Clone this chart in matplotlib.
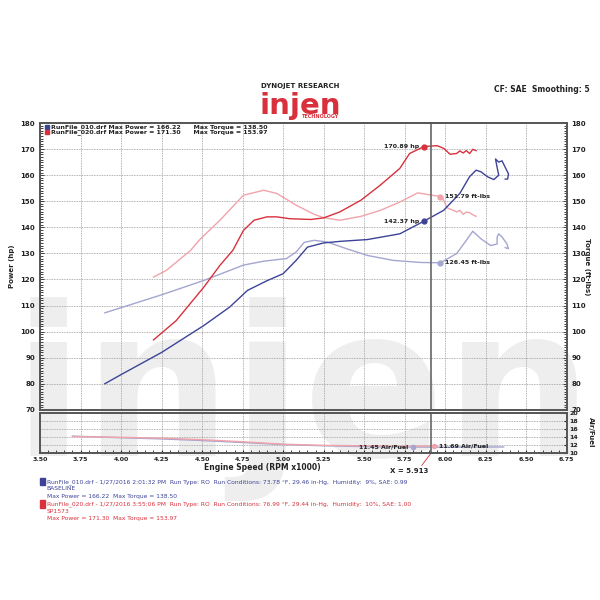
import numpy as np
import matplotlib
matplotlib.use("Agg")
import matplotlib.pyplot as plt
from matplotlib.ticker import MultipleLocator

# run 010 (baseline) - power / torque vs engine speed (RPM x1000)
base_hp_rpm = [3.90, 4.00, 4.25, 4.51, 4.67, 4.78, 4.90, 5.00, 5.08, 5.15, 5.25, 5.35, 5.52,
               5.72, 5.87, 5.99, 6.09, 6.15, 6.19, 6.22, 6.26, 6.30, 6.33, 6.32, 6.31, 6.33,
               6.35, 6.37, 6.39, 6.385, 6.37]
base_hp = [80.0, 83.5, 92.0, 102.3, 109.4, 115.8, 119.5, 122.2, 127.3, 132.4, 134.0, 134.6, 135.3,
           137.5, 142.4, 146.5, 153.0, 159.4, 161.9, 161.3, 159.4, 158.3, 160.0, 163.0, 166.2, 165.0,
           165.5, 163.0, 160.5, 158.5, 158.5]
base_tq_rpm = [3.90, 4.25, 4.51, 4.61, 4.755, 4.88, 5.02, 5.08, 5.13, 5.19, 5.27, 5.39, 5.52,
               5.68, 5.85, 5.97, 6.07, 6.13, 6.17, 6.22, 6.28, 6.32, 6.32, 6.33, 6.35, 6.38,
               6.39, 6.37]
base_tq = [107.2, 114.1, 119.6, 122.0, 125.5, 127.0, 128.0, 130.5, 134.2, 135.0, 134.4, 131.8, 129.2,
           127.3, 126.5, 126.4, 129.9, 135.0, 138.5, 135.6, 133.0, 133.6, 136.3, 137.5, 136.3, 133.7,
           131.8, 132.2]

# run 020 (SP1573)
sp_hp_rpm = [4.20, 4.34, 4.51, 4.61, 4.69, 4.755, 4.82, 4.90, 4.96, 5.04, 5.17, 5.25, 5.35,
             5.48, 5.60, 5.72, 5.78, 5.87, 5.95, 5.99, 6.03, 6.07, 6.09, 6.11, 6.13, 6.15,
             6.17, 6.19]
sp_hp = [96.8, 104.2, 117.0, 125.4, 131.2, 138.8, 142.7, 144.0, 144.0, 143.3, 143.0, 143.6, 145.9,
         150.4, 156.2, 162.6, 168.3, 171.0, 171.3, 170.3, 168.0, 168.3, 169.3, 168.5, 169.4, 168.3,
         169.9, 169.4]
sp_tq_rpm = [4.20, 4.28, 4.43, 4.49, 4.61, 4.755, 4.88, 4.96, 5.08, 5.19, 5.25, 5.35, 5.48,
             5.60, 5.72, 5.83, 5.95, 5.98, 6.01, 6.05, 6.07, 6.09, 6.11, 6.13, 6.15, 6.17, 6.19]
sp_tq = [120.9, 123.5, 131.2, 135.6, 142.7, 152.3, 154.2, 153.0, 148.5, 145.0, 143.7, 142.7, 144.2,
         146.5, 149.7, 153.2, 152.0, 151.8, 147.5, 146.5, 145.9, 146.5, 145.0, 145.8, 145.6, 144.8,
         144.2]

# air/fuel
base_afr_rpm = [3.70, 4.00, 4.25, 4.50, 4.75, 5.00, 5.25, 5.50, 5.75, 6.00, 6.36]
base_afr = [14.2, 13.8, 13.5, 13.1, 12.6, 12.1, 11.8, 11.6, 11.5, 11.45, 11.5]
sp_afr_rpm = [3.70, 4.00, 4.25, 4.50, 4.75, 5.00, 5.25, 5.50, 5.75, 5.95]
sp_afr = [14.1, 13.9, 13.7, 13.3, 12.8, 12.2, 11.9, 11.8, 11.7, 11.69]

cursor_x = 5.913
DARK_BLUE = "#3d4397"
LIGHT_BLUE = "#a3a6cf"
RED = "#d8313d"
PINK = "#f1a3ab"
TXT = "#222222"

fig = plt.figure(figsize=(6, 6), dpi=100)

# watermark (behind everything)
fig.text(0.02, 0.165, "injen", fontsize=150, fontweight="heavy", color="#eeeeee",
         ha="left", va="bottom", zorder=-5)

ax = fig.add_axes([0.0667, 0.317, 0.878, 0.478])
ax.patch.set_alpha(0)
ax.plot(base_tq_rpm, base_tq, color=LIGHT_BLUE, lw=1.0)
ax.plot(sp_tq_rpm, sp_tq, color=PINK, lw=1.0)
ax.plot(base_hp_rpm, base_hp, color=DARK_BLUE, lw=1.0)
ax.plot(sp_hp_rpm, sp_hp, color=RED, lw=1.0)
ax.set_xlim(3.5, 6.75)
ax.set_ylim(70, 180)
ax.xaxis.set_major_locator(MultipleLocator(0.25))
ax.yaxis.set_major_locator(MultipleLocator(10))
ax.yaxis.set_minor_locator(MultipleLocator(1))
ax.grid(True, which="major", color="#999999", linestyle=(0, (1, 1)), lw=0.6)
ax.tick_params(axis="y", which="both", left=True, right=True, labelleft=True, labelright=True,
               direction="in", labelsize=5, colors=TXT, length=3, width=0.6)
ax.tick_params(axis="y", which="minor", length=2)
ax.tick_params(axis="x", length=0, labelbottom=False)
for lab in ax.get_yticklabels():
    lab.set_fontweight("bold")
for s in ax.spines.values():
    s.set_color("#555555")
    s.set_linewidth(1.4)
ax.axvline(cursor_x, color="#666666", lw=1.2)

# cursor markers
ax.plot([5.87], [170.89], "o", color=RED, ms=3.5)
ax.text(5.84, 170.89, "170.89 hp", fontsize=4.5, fontweight="bold", ha="right", va="center", color=TXT)
ax.plot([5.87], [142.37], "o", color=DARK_BLUE, ms=3.5)
ax.text(5.84, 142.37, "142.37 hp", fontsize=4.5, fontweight="bold", ha="right", va="center", color=TXT)
ax.plot([5.97], [151.79], "o", color=PINK, ms=3.5)
ax.text(6.0, 151.79, "151.79 ft-lbs", fontsize=4.5, fontweight="bold", ha="left", va="center", color=TXT)
ax.plot([5.97], [126.45], "o", color=LIGHT_BLUE, ms=3.5)
ax.text(6.0, 126.45, "126.45 ft-lbs", fontsize=4.5, fontweight="bold", ha="left", va="center", color=TXT)

# legend
ax.plot([3.54], [178.6], "s", color=DARK_BLUE, ms=3.5)
ax.plot([3.54], [176.4], "s", color=RED, ms=3.5)
ax.text(3.57, 178.6, "RunFile_010.drf Max Power = 166.22      Max Torque = 138.50",
        fontsize=4.5, fontweight="bold", va="center", color=TXT)
ax.text(3.57, 176.4, "RunFile_020.drf Max Power = 171.30      Max Torque = 153.97",
        fontsize=4.5, fontweight="bold", va="center", color=TXT)

ax.set_ylabel("Power (hp)", fontsize=5, fontweight="bold", color=TXT, labelpad=4)
fig.text(0.978, 0.556, "Torque (ft-lbs)", fontsize=5, fontweight="bold", rotation=-90,
         ha="center", va="center", color=TXT)

# air/fuel subplot
ax2 = fig.add_axes([0.0667, 0.245, 0.878, 0.067])
ax2.patch.set_alpha(0)
ax2.plot(base_afr_rpm, base_afr, color=LIGHT_BLUE, lw=1.0)
ax2.plot(sp_afr_rpm, sp_afr, color=PINK, lw=1.0)
ax2.set_xlim(3.5, 6.75)
ax2.set_ylim(10, 20)
ax2.xaxis.set_major_locator(MultipleLocator(0.25))
ax2.xaxis.set_minor_locator(MultipleLocator(0.05))
ax2.yaxis.set_major_locator(MultipleLocator(2))
ax2.yaxis.tick_right()
ax2.grid(True, which="major", color="#999999", linestyle=(0, (1, 1)), lw=0.6)
ax2.tick_params(axis="y", labelsize=4.5, colors=TXT, direction="in", length=2, pad=2)
ax2.tick_params(axis="x", which="both", direction="in", labelsize=4.5, colors=TXT, length=2, pad=3)
ax2.xaxis.set_major_formatter(matplotlib.ticker.FormatStrFormatter("%.2f"))
for lab in ax2.get_yticklabels() + ax2.get_xticklabels():
    lab.set_fontweight("bold")
for s in ax2.spines.values():
    s.set_color("#555555")
    s.set_linewidth(1.4)
ax2.axvline(cursor_x, color="#666666", lw=1.2)
ax2.plot([5.80], [11.45], "o", color=LIGHT_BLUE, ms=3)
ax2.text(5.77, 11.45, "11.45 Air/Fuel", fontsize=4.5, fontweight="bold", ha="right", va="center", color=TXT)
ax2.plot([5.93], [11.69], "o", color=PINK, ms=3)
ax2.text(5.96, 11.69, "11.69 Air/Fuel", fontsize=4.5, fontweight="bold", ha="left", va="center", color=TXT)
fig.text(0.985, 0.28, "Air/Fuel", fontsize=5, fontweight="bold", rotation=-90,
         ha="center", va="center", color=TXT)
fig.text(0.437, 0.22, "Engine Speed (RPM x1000)", fontsize=5.5, fontweight="bold",
         color=TXT, ha="center", va="center")
# cursor readout with red leader line
ax2.plot([cursor_x, 5.855], [10, 6.9], color=RED, lw=0.6, clip_on=False)
ax2.text(5.78, 5.6, "X = 5.913", fontsize=5, fontweight="bold", color=TXT,
         ha="center", va="center", clip_on=False)

# header
fig.text(0.5, 0.853, "DYNOJET RESEARCH", fontsize=5, fontweight="bold", ha="center", color=TXT)
fig.text(0.5, 0.81, "injen", fontsize=21, fontweight="heavy", ha="center", color=RED)
fig.text(0.535, 0.804, "TECHNOLOGY", fontsize=3.5, fontweight="bold", ha="center", color=RED)
fig.text(0.983, 0.847, "CF: SAE  Smoothing: 5", fontsize=5.5, fontweight="bold", ha="right", color=TXT)

# run info footer
blue_lines = ["RunFile_010.drf - 1/27/2016 2:01:32 PM  Run Type: RO  Run Conditions: 73.78 °F, 29.46 in-Hg,  Humidity:  9%, SAE: 0.99",
              "BASELINE", "Max Power = 166.22  Max Torque = 138.50"]
red_lines = ["RunFile_020.drf - 1/27/2016 3:55:06 PM  Run Type: RO  Run Conditions: 76.99 °F, 29.44 in-Hg,  Humidity:  10%, SAE: 1.00",
             "SP1573", "Max Power = 171.30  Max Torque = 153.97"]
for i, t in enumerate(blue_lines):
    fig.text(0.078, 0.197 - i * 0.012, t, fontsize=4.3, color=DARK_BLUE, va="center")
for i, t in enumerate(red_lines):
    fig.text(0.078, 0.160 - i * 0.012, t, fontsize=4.3, color=RED, va="center")
fig.patches.append(plt.Rectangle((0.067, 0.191), 0.008, 0.012, transform=fig.transFigure,
                                 color=DARK_BLUE, figure=fig))
fig.patches.append(plt.Rectangle((0.067, 0.154), 0.008, 0.012, transform=fig.transFigure,
                                 color=RED, figure=fig))

fig.savefig("out.png", dpi=100)
